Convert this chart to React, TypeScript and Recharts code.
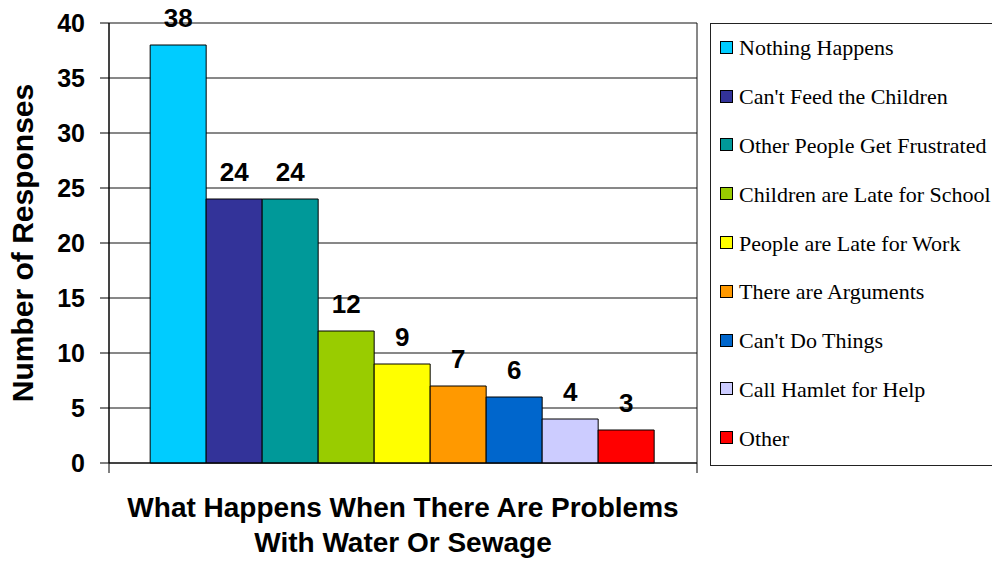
import { Bar, BarChart, CartesianGrid, Legend, XAxis, YAxis } from "recharts";

const seriesNames = [
    "Nothing Happens",
    "Can't Feed the Children",
    "Other People Get Frustrated",
    "Children are Late for School",
    "People are Late for Work",
    "There are Arguments",
    "Can't Do Things",
    "Call Hamlet for Help",
    "Other",
];
const seriesValues = [38, 24, 24, 12, 9, 7, 6, 4, 3];
const seriesColors = ["#00CCFF", "#333399", "#009999", "#99CC00", "#FFFF00", "#FF9900", "#0066CC", "#CCCCFF", "#FF0000"];
const yTicks = [0, 5, 10, 15, 20, 25, 30, 35, 40];
const xTitleLines = ["What Happens When There Are Problems", "With Water Or Sewage"];
const yTitle = "Number of Responses";

const sans = "'Liberation Sans', Arial, sans-serif";
const serif = "'Liberation Serif', 'Times New Roman', serif";

const row: Record<string, string | number> = { name: "problems" };
seriesNames.forEach((n, i) => {
    row["s" + i] = seriesValues[i];
});
const data = [row];

// legend keeps the series order (recharts would sort it by name)
function LegendBox() {
    return (
        <div
            style={{
                width: 284,
                height: 443,
                boxSizing: "border-box",
                border: "1px solid #222",
                background: "#fff",
            }}
        >
            {seriesNames.map((n, i) => (
                <div key={n} style={{ height: 48.8, display: "flex", alignItems: "center", paddingLeft: 9 }}>
                    <span
                        style={{
                            display: "inline-block",
                            width: 11,
                            height: 11,
                            background: seriesColors[i],
                            border: "1px solid #000",
                            marginRight: 6,
                            marginTop: -2,
                        }}
                    />
                    <span style={{ fontFamily: serif, fontSize: 22, color: "#000", whiteSpace: "nowrap" }}>{n}</span>
                </div>
            ))}
        </div>
    );
}

// two-line axis title, plus the short tick marks at both ends of the category axis
function XTitle({ viewBox }: any) {
    const cx = viewBox.x + viewBox.width / 2;
    return (
        <g>
            <line x1={viewBox.x} x2={viewBox.x} y1={viewBox.y} y2={viewBox.y + 10} stroke="#000" />
            <line
                x1={viewBox.x + viewBox.width}
                x2={viewBox.x + viewBox.width}
                y1={viewBox.y}
                y2={viewBox.y + 10}
                stroke="#000"
            />
            {xTitleLines.map((t, i) => (
                <text
                    key={t}
                    x={cx}
                    y={viewBox.y + 54 + i * 35}
                    textAnchor="middle"
                    fontFamily={sans}
                    fontWeight="bold"
                    fontSize={28}
                    fill="#000"
                >
                    {t}
                </text>
            ))}
        </g>
    );
}

function YTitle({ viewBox }: any) {
    const cy = viewBox.y + viewBox.height / 2;
    return (
        <text
            transform={`translate(${viewBox.x + 33},${cy}) rotate(-90)`}
            textAnchor="middle"
            fontFamily={sans}
            fontWeight="bold"
            fontSize={30}
            fill="#000"
        >
            {yTitle}
        </text>
    );
}

export default function App() {
    return (
        <div style={{ position: "absolute", left: 0, top: 0, width: 992, height: 561, background: "#fff" }}>
            <BarChart
                width={992}
                height={561}
                data={data}
                margin={{ top: 23, right: 11, left: 0, bottom: 0 }}
                barGap={0}
                barCategoryGap="7%"
            >
                <CartesianGrid
                    stroke="#111"
                    strokeWidth={1}
                    verticalCoordinatesGenerator={({ offset }: any) => [offset.left, offset.left + offset.width]}
                />
                <XAxis
                    dataKey="name"
                    height={98}
                    tick={false}
                    tickLine={false}
                    stroke="#000"
                    label={<XTitle />}
                />
                <YAxis
                    width={109}
                    domain={[0, 40]}
                    ticks={yTicks}
                    interval={0}
                    tickSize={9}
                    tickMargin={15}
                    stroke="#000"
                    tick={{ fill: "#000", fontSize: 25, fontWeight: "bold", fontFamily: sans }}
                    label={<YTitle />}
                />
                <Legend
                    layout="vertical"
                    align="right"
                    verticalAlign="top"
                    wrapperStyle={{ top: 23, right: -2 }}
                    content={<LegendBox />}
                />
                {seriesNames.map((n, i) => (
                    <Bar
                        key={n}
                        dataKey={"s" + i}
                        name={n}
                        fill={seriesColors[i]}
                        stroke="#000"
                        strokeWidth={1}
                        isAnimationActive={false}
                        label={{
                            position: "top",
                            offset: 18,
                            fill: "#000",
                            fontSize: 26,
                            fontWeight: "bold",
                            fontFamily: sans,
                        }}
                    />
                ))}
            </BarChart>
        </div>
    );
}
